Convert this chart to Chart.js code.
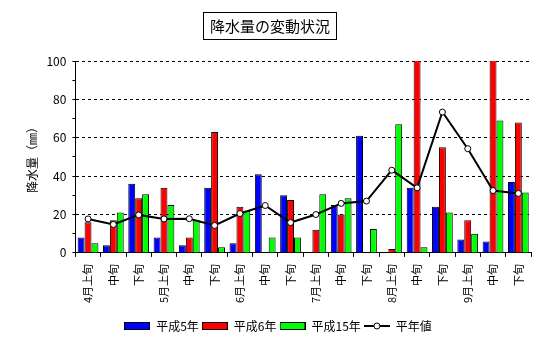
<!DOCTYPE html>
<html><head><meta charset="utf-8">
<script src="https://cdn.jsdelivr.net/npm/chart.js@4"></script>
<style>
html,body{margin:0;padding:0;background:#fff;}
#wrap{position:relative;width:541px;height:342px;}
#title{position:absolute;left:203px;top:12px;width:132px;height:26px;border:1px solid #000;font:15px "Noto Sans CJK JP";line-height:26px;text-align:center;color:#000;}
canvas{position:absolute;left:0;top:0;}
</style></head><body>
<div id="wrap"><canvas id="c" width="541" height="342"></canvas><div id="title">降水量の変動状況</div></div>
<script>
const categories = ['4月上旬','中旬','下旬','5月上旬','中旬','下旬','6月上旬','中旬','下旬','7月上旬','中旬','下旬','8月上旬','中旬','下旬','9月上旬','中旬','下旬'];
const heisei5  = [8,4,36,8,4,34,5,41,30,null,25,61,null,34,24,7,6,37];
const heisei6  = [16,17,28.5,34,8,63,24,null,27.5,12,20,null,2,120,55,17,130,68];
const heisei15 = [5,21,30.5,25,17,3,22,8,8,30.5,28.5,12.5,67,3,21,10,69,31.5];
const heinen   = [17.7,14.8,19.8,17.7,17.8,14.3,20.5,24.7,15.8,20,25.8,27,43.1,33.9,73.4,54.3,32.5,31];
const seriesNames = ['平成5年','平成6年','平成15年','平年値'];
const yTitle = '降水量（㎜）';

const FONT = '"Noto Sans CJK JP", "DejaVu Sans", sans-serif';

function boxImg(color){
  const c=document.createElement('canvas');c.width=26;c.height=8;
  const x=c.getContext('2d');x.fillStyle=color;x.fillRect(0,0,26,8);
  x.strokeStyle='#000';x.lineWidth=1;x.strokeRect(0.5,0.5,25,7);return c;
}
function lineImg(){
  const c=document.createElement('canvas');c.width=26;c.height=8;
  const x=c.getContext('2d');x.strokeStyle='#000';x.lineWidth=2;
  x.beginPath();x.moveTo(0,4);x.lineTo(26,4);x.stroke();
  x.beginPath();x.arc(13,4,3,0,Math.PI*2);x.fillStyle='#fff';x.fill();x.lineWidth=1;x.stroke();return c;
}
const imgs=[boxImg('#0000ff'),boxImg('#ff0000'),boxImg('#00ff00'),lineImg()];

new Chart(document.getElementById('c'),{
  type:'bar',
  data:{labels:categories,datasets:[
    {label:seriesNames[0],data:heisei5,backgroundColor:'#0000ff',borderColor:'#000',borderWidth:1,order:1},
    {label:seriesNames[1],data:heisei6,backgroundColor:'#ff0000',borderColor:'#000',borderWidth:1,order:1},
    {label:seriesNames[2],data:heisei15,backgroundColor:'#00ff00',borderColor:'#000',borderWidth:1,order:1},
    {type:'line',label:seriesNames[3],data:heinen,borderColor:'#000',borderWidth:2,pointRadius:3,pointBackgroundColor:'#fff',pointBorderColor:'#000',pointBorderWidth:1,tension:0,order:0}
  ]},
  options:{
    responsive:false,animation:false,
    categoryPercentage:0.82,barPercentage:1.0,
    layout:{padding:{top:61,left:25,right:10,bottom:0}},
    plugins:{
      title:{display:false},tooltip:{enabled:false},
      legend:{position:'bottom',labels:{
        usePointStyle:true,pointStyleWidth:26,boxHeight:8,padding:3,color:'#000',font:{family:FONT,size:12},
        generateLabels:(chart)=>seriesNames.map((n,i)=>({text:n,pointStyle:imgs[i],datasetIndex:i,fillStyle:'#fff',strokeStyle:'#000',lineWidth:0,hidden:false,fontColor:'#000'}))
      }}
    },
    scales:{
      x:{grid:{display:true,offset:true,drawOnChartArea:false,tickLength:4,tickColor:'#000'},border:{color:'#000',width:1},
        afterFit:(s)=>{s.height+=7;},
        ticks:{color:'#000',font:{family:FONT,size:11},maxRotation:90,minRotation:90,autoSkip:false,padding:7}},
      y:{min:0,max:100,
        grid:{color:(ctx)=>(ctx.tick && ctx.tick.value%20===0 && ctx.tick.value!==0)?'#000':'rgba(0,0,0,0)',tickColor:'#000',tickLength:3,lineWidth:1,tickBorderDash:[]},
        border:{color:'#000',width:1,dash:[3,3]},
        ticks:{stepSize:5,color:'#000',font:{family:FONT,size:12},padding:6,callback:(v)=>v%20===0?String(v):''},
        title:{display:true,text:yTitle,color:'#000',font:{family:FONT,size:12},padding:{top:0,bottom:1}}
      }
    }
  }
});
</script>
</body></html>
